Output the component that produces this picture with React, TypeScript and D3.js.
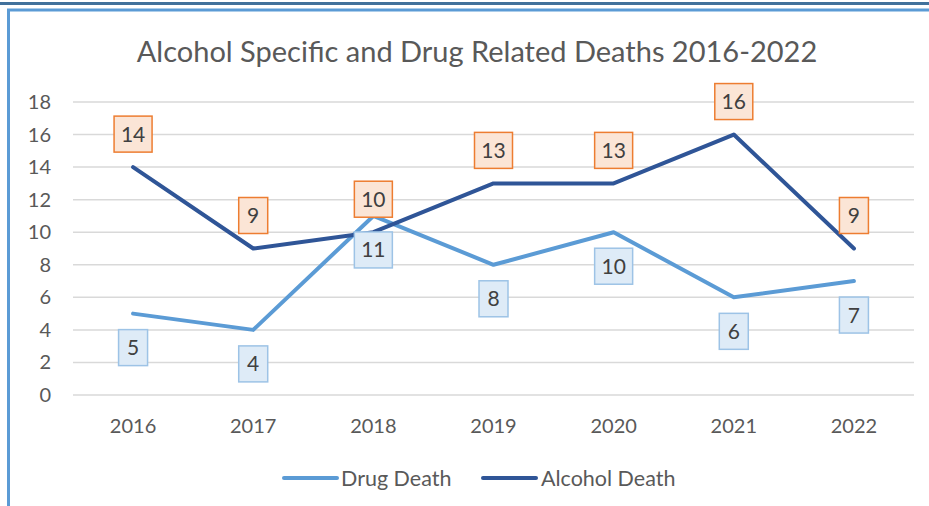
import React from "react";
import * as d3 from "d3";

const years = ["2016", "2017", "2018", "2019", "2020", "2021", "2022"];
const drugDeaths = [5, 4, 11, 8, 10, 6, 7];
const alcoholDeaths = [14, 9, 10, 13, 13, 16, 9];
const yTicks = [0, 2, 4, 6, 8, 10, 12, 14, 16, 18];
const title = "Alcohol Specific and Drug Related Deaths 2016-2022";
const seriesNames = ["Drug Death", "Alcohol Death"];

const W = 929, H = 506;
const FONT = "Lato, 'Open Sans', sans-serif";
const TEXT = "#595959";
const DRUG = "#5b9bd5";
const ALC = "#2f5597";

export default function App() {
  const x = d3.scaleBand<string>().domain(years).range([73, 914]);
  const y = d3.scaleLinear().domain([0, 18]).range([395, 102]);
  const cx = (yr: string) => (x(yr) as number) + x.bandwidth() / 2;
  const line = d3.line<number>().x((_, i) => cx(years[i])).y((v) => y(v));

  const label = (v: number, i: number, above: boolean) => {
    const txt = String(v);
    const w = txt.length > 1 ? 38 : 29;
    const h = 36;
    const px = cx(years[i]);
    const py = y(v);
    const top = above ? py - 15 - h : py + 16;
    return (
      <g key={(above ? "a" : "d") + i}>
        <rect x={px - w / 2} y={top} width={w} height={h}
          fill={above ? "#fbe5d6" : "#deebf7"}
          stroke={above ? "#ed7d31" : "#9dc3e6"} strokeWidth={1.5} />
        <text x={px} y={top + h / 2 + 7.5} textAnchor="middle" fontSize={21}
          fill="#404040" fontFamily={FONT}>{txt}</text>
      </g>
    );
  };

  return (
    <svg width={W} height={H} style={{ position: "absolute", left: 0, top: 0, background: "#fff" }}>
      <rect x={0} y={0} width={W} height={H} fill="#fff" />
      <line x1={0} x2={W} y1={3.5} y2={3.5} stroke="#41719c" strokeWidth={3} />
      <path d={`M8.5,${H} V10 H${W}`} fill="none" stroke={DRUG} strokeWidth={3} />
      <text x={477} y={62} textAnchor="middle" fontSize={29} fill={TEXT} fontFamily={FONT}>{title}</text>
      {yTicks.map((t) => (
        <g key={t}>
          <line x1={73} x2={914} y1={y(t)} y2={y(t)} stroke="#d9d9d9" strokeWidth={1.5} />
          <text x={51} y={y(t) + 7} textAnchor="end" fontSize={20} fill={TEXT} fontFamily={FONT}>{t}</text>
        </g>
      ))}
      {years.map((yr) => (
        <text key={yr} x={cx(yr)} y={433} textAnchor="middle" fontSize={20} fill={TEXT} fontFamily={FONT}>{yr}</text>
      ))}
      <path d={line(drugDeaths) || ""} fill="none" stroke={DRUG} strokeWidth={4} strokeLinejoin="round" strokeLinecap="round" />
      <path d={line(alcoholDeaths) || ""} fill="none" stroke={ALC} strokeWidth={4} strokeLinejoin="round" strokeLinecap="round" />
      {alcoholDeaths.map((v, i) => label(v, i, true))}
      {drugDeaths.map((v, i) => label(v, i, false))}
      <line x1={284} x2={337} y1={478} y2={478} stroke={DRUG} strokeWidth={4} strokeLinecap="round" />
      <text x={341} y={486} fontSize={21.5} fill={TEXT} fontFamily={FONT}>{seriesNames[0]}</text>
      <line x1={483} x2={536} y1={478} y2={478} stroke={ALC} strokeWidth={4} strokeLinecap="round" />
      <text x={541} y={486} fontSize={21.5} fill={TEXT} fontFamily={FONT}>{seriesNames[1]}</text>
    </svg>
  );
}
